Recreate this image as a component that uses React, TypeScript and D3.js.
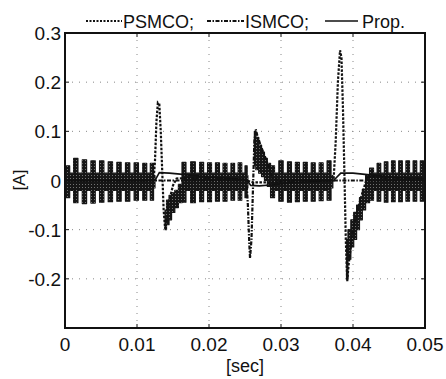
import * as d3 from "d3";

// time axis and current axis ticks
const xTicks = [0, 0.01, 0.02, 0.03, 0.04, 0.05];
const xTickLabels = ["0", "0.01", "0.02", "0.03", "0.04", "0.05"];
const yTicks = [0.3, 0.2, 0.1, 0, -0.1, -0.2, -0.3];
const yTickLabels = ["0.3", "0.2", "0.1", "0", "-0.1", "-0.2", ""];

// chattering envelope of the sliding mode observers: [t, upper, lower]
const chatterBands: [number, number, number][][] = [
  [
    [0.0, 0.015, -0.02], [0.0004, 0.03, -0.035], [0.0009, 0.015, -0.02],
    [0.0015, 0.045, -0.045], [0.0021, 0.015, -0.02], [0.0027, 0.042, -0.047],
    [0.0033, 0.015, -0.02], [0.0039, 0.04, -0.046], [0.0045, 0.015, -0.02],
    [0.0051, 0.04, -0.044], [0.0057, 0.015, -0.02], [0.0063, 0.038, -0.043],
    [0.0069, 0.015, -0.02], [0.0075, 0.037, -0.042], [0.0081, 0.015, -0.02],
    [0.0087, 0.036, -0.042], [0.0093, 0.015, -0.02], [0.0099, 0.036, -0.04],
    [0.0105, 0.015, -0.02], [0.0111, 0.035, -0.04], [0.0116, 0.015, -0.02],
    [0.0121, 0.035, -0.04], [0.0125, 0.01, -0.015],
  ],
  [
    [0.0139, -0.06, -0.1], [0.0143, -0.04, -0.09], [0.0146, -0.03, -0.08],
    [0.015, -0.025, -0.065], [0.0155, -0.02, -0.055], [0.016, -0.008, -0.045],
    [0.0165, 0.037, -0.044], [0.0171, 0.015, -0.02], [0.0178, 0.038, -0.045],
    [0.0184, 0.015, -0.02], [0.019, 0.037, -0.043], [0.0195, 0.015, -0.02],
    [0.0201, 0.036, -0.043], [0.0206, 0.015, -0.02], [0.0212, 0.036, -0.042],
    [0.0217, 0.015, -0.02], [0.0222, 0.035, -0.042], [0.0228, 0.015, -0.02],
    [0.0233, 0.035, -0.04], [0.0238, 0.015, -0.02], [0.0243, 0.036, -0.04],
    [0.0248, 0.015, -0.02], [0.0252, 0.03, -0.035], [0.0254, 0.01, -0.015],
  ],
  [
    [0.0263, 0.1, 0.03], [0.0267, 0.088, 0.022], [0.0271, 0.072, 0.015],
    [0.0275, 0.058, 0.008], [0.0279, 0.045, 0.0], [0.0283, 0.035, -0.012],
    [0.0288, 0.03, -0.035], [0.0294, 0.015, -0.02], [0.03, 0.04, -0.042],
    [0.0306, 0.015, -0.02], [0.0312, 0.038, -0.044], [0.0317, 0.015, -0.02],
    [0.0323, 0.037, -0.043], [0.0328, 0.015, -0.02], [0.0334, 0.037, -0.042],
    [0.0339, 0.015, -0.02], [0.0345, 0.036, -0.042], [0.035, 0.015, -0.02],
    [0.0356, 0.036, -0.041], [0.0361, 0.015, -0.02], [0.0367, 0.04, -0.04],
    [0.0372, 0.01, -0.015],
  ],
  [
    [0.0391, -0.12, -0.2], [0.0395, -0.1, -0.16], [0.0399, -0.08, -0.135],
    [0.0403, -0.065, -0.12], [0.0407, -0.05, -0.1], [0.0411, -0.035, -0.08],
    [0.0415, -0.018, -0.06], [0.042, 0.01, -0.045], [0.0426, 0.025, -0.04],
    [0.0431, 0.015, -0.02], [0.0436, 0.035, -0.042], [0.0441, 0.015, -0.02],
    [0.0446, 0.038, -0.044], [0.0451, 0.015, -0.02], [0.0456, 0.04, -0.043],
    [0.0461, 0.015, -0.02], [0.0466, 0.04, -0.043], [0.0471, 0.015, -0.02],
    [0.0476, 0.04, -0.042], [0.0481, 0.015, -0.02], [0.0486, 0.04, -0.042],
    [0.0491, 0.015, -0.02], [0.0496, 0.04, -0.042], [0.05, 0.02, -0.025],
  ],
];

// averaged responses [t, A]
const psmco: [number, number][] = [
  [0, 0], [0.0123, 0], [0.0125, 0.04], [0.0127, 0.12], [0.0129, 0.158],
  [0.0131, 0.155], [0.0133, 0.1], [0.0135, 0.02], [0.0137, -0.06],
  [0.0139, -0.098], [0.0141, -0.08], [0.0145, -0.04], [0.015, -0.01],
  [0.0155, 0.004], [0.017, 0.005], [0.025, 0.001], [0.0262, -0.004],
  [0.0285, -0.004], [0.032, 0], [0.0373, 0], [0.0376, 0.08], [0.0379, 0.2],
  [0.0382, 0.265], [0.0384, 0.25], [0.0386, 0.15], [0.0388, 0.02],
  [0.039, -0.12], [0.0392, -0.205], [0.0394, -0.17], [0.04, -0.1],
  [0.041, -0.04], [0.042, 0.008], [0.045, 0.004], [0.05, 0.002],
];

const ismco: [number, number][] = [
  [0, 0], [0.0252, 0], [0.0254, -0.05], [0.0256, -0.13], [0.0257, -0.158],
  [0.0259, -0.12], [0.0261, -0.02], [0.0263, 0.08], [0.0265, 0.104],
  [0.0267, 0.092], [0.0272, 0.07], [0.028, 0.04], [0.0288, 0.005],
  [0.03, 0], [0.05, 0],
];

const prop: [number, number][] = [
  [0, 0], [0.0125, 0], [0.0131, 0.016], [0.0145, 0.015], [0.016, 0.013],
  [0.02, 0.007], [0.0252, 0.002], [0.0258, -0.01], [0.027, -0.011],
  [0.0285, -0.009], [0.032, -0.004], [0.0373, 0], [0.0383, 0.015],
  [0.04, 0.015], [0.042, 0.012], [0.046, 0.006], [0.05, 0.004],
];

const W = 446;
const H = 379;
const left = 65, right = 425, top = 33, bottom = 328;
const font = "'Liberation Sans', Arial, Helvetica, sans-serif";

const App = () => {
  const x = d3.scaleLinear().domain([0, 0.05]).range([left, right]);
  const y = d3.scaleLinear().domain([-0.3, 0.3]).range([bottom, top]);

  // chattering drawn as a switching band (column-like teeth)
  const band = d3.area<[number, number, number]>()
    .x(d => x(d[0]))
    .y0(d => y(d[2]))
    .y1(d => y(d[1]))
    .curve(d3.curveStep);

  const line = d3.line<[number, number]>()
    .x(d => x(d[0]))
    .y(d => y(d[1]));

  return (
    <svg width={W} height={H} style={{ position: "absolute", left: 0, top: 0, background: "#fff" }}>
      <defs>
        <pattern id="speckle" width="3" height="3" patternUnits="userSpaceOnUse">
          <rect x="1" y="1" width="1" height="1" fill="#fff" fillOpacity="0.4" />
        </pattern>
        <clipPath id="plot">
          <rect x={left} y={top} width={right - left} height={bottom - top} />
        </clipPath>
      </defs>

      {/* grid */}
      {xTicks.slice(1, -1).map(t => (
        <line key={"gx" + t} x1={x(t)} x2={x(t)} y1={top} y2={bottom}
          stroke="#888" strokeWidth={1} strokeDasharray="1,6" />
      ))}
      {yTicks.slice(1, -1).filter(v => v !== 0).map(v => (
        <line key={"gy" + v} x1={left} x2={right} y1={y(v)} y2={y(v)}
          stroke="#888" strokeWidth={1} strokeDasharray="1,6" />
      ))}

      <g clipPath="url(#plot)">
        {/* chattering */}
        {chatterBands.map((seg, i) => (
          <g key={"b" + i}>
            <path d={band(seg) || ""} fill="#161616" stroke="#161616" strokeWidth={1.2}
              strokeLinejoin="round" />
            <path d={band(seg) || ""} fill="url(#speckle)" />
          </g>
        ))}
        <path d={line(prop) || ""} fill="none" stroke="#111" strokeWidth={1.6} />
        <path d={line(ismco) || ""} fill="none" stroke="#111" strokeWidth={2.2}
          strokeDasharray="4,1.5,1.5,1.5" />
        <path d={line(psmco) || ""} fill="none" stroke="#111" strokeWidth={2.2}
          strokeDasharray="2.5,1.5" />
      </g>

      {/* frame and ticks */}
      <rect x={left} y={top} width={right - left} height={bottom - top}
        fill="none" stroke="#111" strokeWidth={2} />
      {xTicks.map(t => (
        <g key={"tx" + t}>
          <line x1={x(t)} x2={x(t)} y1={bottom} y2={bottom - 4} stroke="#111" />
          <line x1={x(t)} x2={x(t)} y1={top} y2={top + 4} stroke="#111" />
        </g>
      ))}
      {yTicks.map(v => (
        <g key={"ty" + v}>
          <line x1={left} x2={left + 4} y1={y(v)} y2={y(v)} stroke="#111" />
          <line x1={right} x2={right - 4} y1={y(v)} y2={y(v)} stroke="#111" />
        </g>
      ))}

      {/* tick labels */}
      {xTicks.map((t, i) => (
        <text key={"lx" + t} x={x(t)} y={351} textAnchor="middle"
          fontFamily={font} fontSize={19} fill="#111">{xTickLabels[i]}</text>
      ))}
      {yTicks.map((v, i) => (
        <text key={"ly" + v} x={61} y={y(v) + 7} textAnchor="end"
          fontFamily={font} fontSize={19} fill="#111">{yTickLabels[i]}</text>
      ))}

      {/* axis labels */}
      <text x={245} y={372} textAnchor="middle" fontFamily={font} fontSize={18} fill="#111">[sec]</text>
      <text transform="translate(25,180) rotate(-90)" textAnchor="middle"
        fontFamily={font} fontSize={17} fill="#111">[A]</text>

      {/* legend title */}
      <line x1={86} x2={122} y1={21} y2={21} stroke="#111" strokeWidth={2} strokeDasharray="2,1.5" />
      <text x={123} y={28} fontFamily={font} fontSize={18} fill="#111">PSMCO;</text>
      <line x1={207} x2={244} y1={21} y2={21} stroke="#111" strokeWidth={2} strokeDasharray="4,1.5,1.5,1.5" />
      <text x={245} y={28} fontFamily={font} fontSize={18} fill="#111">ISMCO;</text>
      <line x1={325} x2={358} y1={21} y2={21} stroke="#111" strokeWidth={1.6} />
      <text x={362} y={28} fontFamily={font} fontSize={18} fill="#111">Prop.</text>
    </svg>
  );
};

export default App;
